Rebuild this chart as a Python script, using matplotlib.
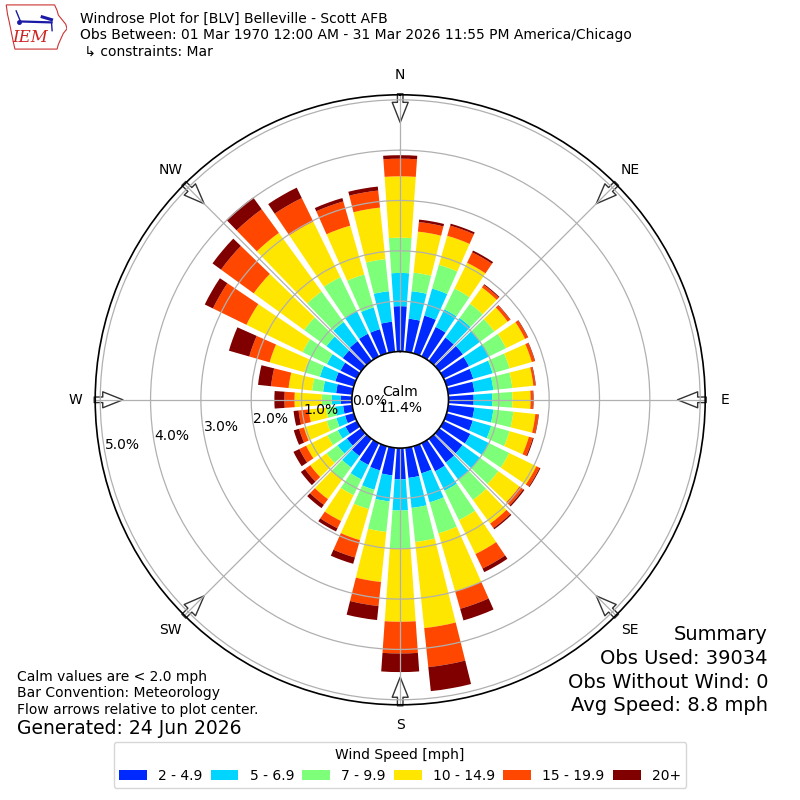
import numpy as np
import matplotlib
matplotlib.use("Agg")
import matplotlib.pyplot as plt
from matplotlib.patches import Patch, Polygon

# ---------------- data ----------------
directions = np.arange(10, 361, 10)  # bar direction, degrees (meteorology: from)
speed_labels = ["2 - 4.9", "5 - 6.9", "7 - 9.9", "10 - 14.9", "15 - 19.9", "20+"]

# percent of observations per direction and speed bin
freq_2_5 = [0.66, 0.78, 0.65, 0.57, 0.58, 0.56, 0.55, 0.52, 0.50,
            0.52, 0.54, 0.59, 0.57, 0.58, 0.62, 0.56, 0.60, 0.62,
            0.55, 0.50, 0.48, 0.42, 0.35, 0.25, 0.18, 0.18, 0.22,
            0.32, 0.38, 0.36, 0.45, 0.48, 0.50, 0.50, 0.60, 0.90]
freq_5_7 = [0.55, 0.56, 0.39, 0.48, 0.42, 0.44, 0.40, 0.38, 0.37,
            0.38, 0.38, 0.41, 0.43, 0.42, 0.43, 0.60, 0.60, 0.62,
            0.52, 0.40, 0.32, 0.28, 0.23, 0.17, 0.18, 0.16, 0.18,
            0.26, 0.32, 0.30, 0.40, 0.47, 0.50, 0.45, 0.61, 0.66]
freq_7_10 = [0.37, 0.49, 0.46, 0.35, 0.35, 0.38, 0.35, 0.38, 0.40,
             0.40, 0.38, 0.45, 0.45, 0.50, 0.65, 0.64, 0.68, 0.76,
             0.61, 0.40, 0.35, 0.30, 0.27, 0.23, 0.20, 0.18, 0.20,
             0.22, 0.32, 0.54, 0.55, 0.75, 0.75, 0.68, 0.64, 0.70]
freq_10_15 = [0.82, 0.60, 0.57, 0.40, 0.33, 0.42, 0.46, 0.42, 0.36,
              0.44, 0.40, 0.60, 0.52, 0.58, 0.75, 1.20, 1.72, 1.45,
              1.00, 0.64, 0.57, 0.48, 0.40, 0.47, 0.47, 0.35, 0.54,
              0.47, 0.72, 1.24, 1.24, 1.44, 1.23, 1.01, 1.03, 1.22]
freq_15_20 = [0.19, 0.21, 0.23, 0.06, 0.06, 0.06, 0.06, 0.04, 0.05,
              0.06, 0.08, 0.07, 0.09, 0.11, 0.32, 0.36, 0.78, 0.63,
              0.48, 0.36, 0.16, 0.14, 0.13, 0.15, 0.10, 0.20, 0.20,
              0.35, 0.42, 0.74, 0.80, 0.58, 0.52, 0.50, 0.34, 0.35]
freq_20p = [0.05, 0.04, 0.04, 0.02, 0.01, 0.01, 0.01, 0.01, 0.01,
            0.01, 0.02, 0.02, 0.03, 0.03, 0.08, 0.24, 0.48, 0.37,
            0.28, 0.13, 0.07, 0.08, 0.10, 0.13, 0.11, 0.10, 0.20,
            0.26, 0.42, 0.18, 0.21, 0.29, 0.23, 0.07, 0.08, 0.07]

calm_pct = 11.4
r_ticks = [0, 1, 2, 3, 4, 5]
compass_labels = ["N", "NE", "E", "SE", "S", "SW", "W", "NW"]
compass_angles = [0, 45, 90, 135, 180, 225, 270, 315]

title_lines = ["Windrose Plot for [BLV] Belleville - Scott AFB",
               "Obs Between: 01 Mar 1970 12:00 AM - 31 Mar 2026 11:55 PM America/Chicago",
               " \u21b3 constraints: Mar"]
left_notes = ["Calm values are < 2.0 mph", "Bar Convention: Meteorology",
              "Flow arrows relative to plot center."]
generated = "Generated: 24 Jun 2026"
summary_lines = ["Summary", "Obs Used: 39034", "Obs Without Wind: 0",
                 "Avg Speed: 8.8 mph"]

# ---------------- figure ----------------
cmap = plt.get_cmap("jet")
colors = [cmap(i / 6.0) for i in range(1, 7)]

fig = plt.figure(figsize=(8, 8), dpi=100)
ax = fig.add_axes([0.119, 0.119, 0.7625, 0.7625], projection="polar")
ax.set_theta_zero_location("N")
ax.set_theta_direction(-1)

rmax = 5.1
ax.set_ylim(0, rmax)
ax.set_rorigin(-0.96)

theta = np.deg2rad(directions)
width = np.deg2rad(10) * 0.8
bins = [freq_2_5, freq_5_7, freq_7_10, freq_10_15, freq_15_20, freq_20p]
bottom = np.zeros(len(directions))
for vals, col in zip(bins, colors):
    vals = np.asarray(vals)
    ax.bar(theta, vals, width=width, bottom=bottom, color=col,
           edgecolor="none", align="center", zorder=1)
    bottom = bottom + vals

ax.set_xticks(np.deg2rad(compass_angles))
ax.set_xticklabels([])
ax.set_yticks(r_ticks)
ax.set_yticklabels([f"{v:.1f}%" for v in r_ticks], fontsize=10)
ax.set_rlabel_position(260)
ax.grid(True, color="#b0b0b0", lw=0.9)
for sp in ax.spines.values():
    sp.set_linewidth(1.2)
    sp.set_color("black")

# compass labels and flow arrows
for lab, ang in zip(compass_labels, compass_angles):
    t = np.deg2rad(ang)
    ax.text(t, 5.5, lab, ha="center", va="center", fontsize=10, clip_on=False)
    ax.annotate("", xy=(t, 4.55), xytext=(t, 5.12), xycoords="data",
                textcoords="data", annotation_clip=False,
                arrowprops=dict(arrowstyle="simple,head_length=1.45,head_width=1.15,tail_width=0.4",
                                mutation_scale=10, fc="white", ec="#333333",
                                lw=1.0, shrinkA=0, shrinkB=0),
                zorder=1.2)

ax.text(0.5, 0.5, f"Calm\n{calm_pct:.1f}%", transform=ax.transAxes,
        ha="center", va="center", fontsize=10)

# ---------------- text ----------------
fig.text(0.1, 0.985, "\n".join(title_lines), ha="left", va="top", fontsize=10)

for i, line in enumerate(left_notes):
    fig.text(0.021, 1 - (677 + i * 16.5) / 800, line, ha="left",
             va="center", fontsize=10)
fig.text(0.021, 1 - 729 / 800, generated, ha="left", va="center", fontsize=13.5)

for i, line in enumerate(summary_lines):
    fig.text(0.96, 1 - (635 + i * 23.5) / 800, line, ha="right",
             va="center", fontsize=14)

handles = [Patch(facecolor=c, label=l) for c, l in zip(colors, speed_labels)]
fig.legend(handles=handles, loc="lower center", bbox_to_anchor=(0.5, 0.006),
           ncol=6, title="Wind Speed [mph]", fontsize=10, title_fontsize=10,
           columnspacing=0.6)

# ---------------- IEM logo ----------------
lax = fig.add_axes([5 / 800, 1 - 50 / 800, 62 / 800, 46 / 800])
lax.set_xlim(0, 1)
lax.set_ylim(0, 1)
lax.axis("off")
iowa = [(0.02, 0.98), (0.80, 0.98), (0.84, 0.86), (0.86, 0.76), (0.92, 0.66),
        (0.98, 0.56), (1.0, 0.46), (0.94, 0.36), (0.90, 0.24), (0.86, 0.12),
        (0.84, 0.02), (0.16, 0.02), (0.13, 0.2), (0.10, 0.4), (0.07, 0.6),
        (0.04, 0.78)]
lax.add_patch(Polygon(iowa, closed=True, fill=False, ec="#cc3333", lw=0.8))
lax.plot([0.25, 0.75], [0.62, 0.60], color="#1a1aa6", lw=1.6)
lax.plot([0.25, 0.18], [0.62, 0.85], color="#1a1aa6", lw=1.0)
lax.plot([0.60, 0.75], [0.72, 0.66], color="#1a1aa6", lw=2.2)
lax.plot([0.75, 0.76], [0.60, 0.42], color="#1a1aa6", lw=1.0)
lax.plot([0.22], [0.60], "o", color="#1a1aa6", ms=2.5)
lax.text(0.12, 0.28, "IEM", color="#cc2222", fontsize=12, style="italic",
         family="DejaVu Serif", ha="left", va="center")

fig.savefig("out.png", dpi=100, facecolor="white")
